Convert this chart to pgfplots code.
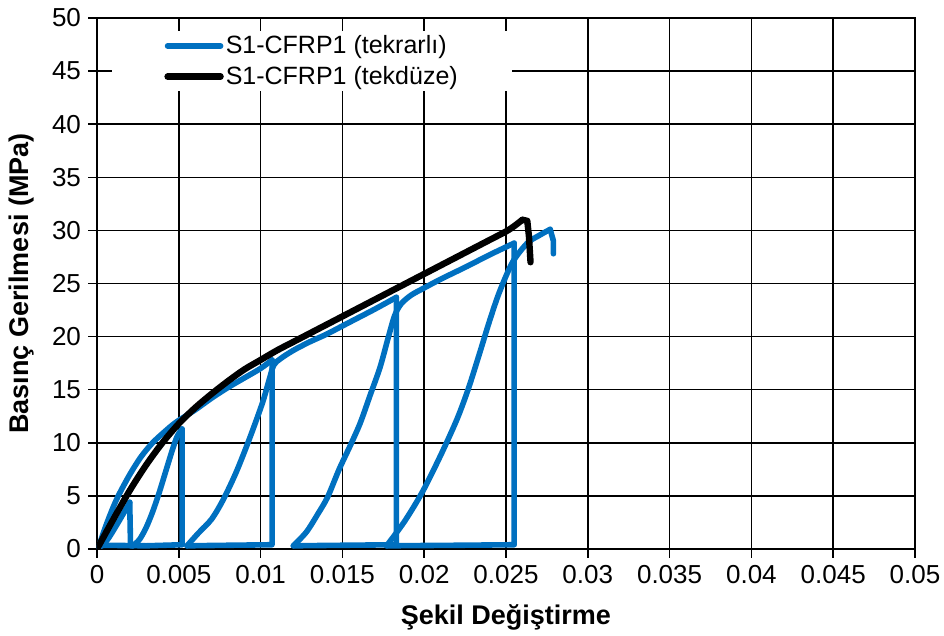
\documentclass[border=0pt]{standalone}
\usepackage{fontspec}
\setmainfont{Liberation Sans}
\usepackage{pgfplots}
\pgfplotsset{compat=1.18}
\definecolor{xlblue}{RGB}{0,112,192}
\begin{document}
\begin{tikzpicture}
\begin{axis}[
  scale only axis, width=409pt, height=265.5pt,
  xmin=0, xmax=0.05, ymin=0, ymax=50,
  xtick={0,0.005,0.01,0.015,0.02,0.025,0.03,0.035,0.04,0.045,0.05},
  xticklabels={0,0.005,0.01,0.015,0.02,0.025,0.03,0.035,0.04,0.045,0.05},
  ytick={0,5,10,15,20,25,30,35,40,45,50},
  scaled x ticks=false,
  /pgf/number format/assume math mode=true,
  grid=major, major grid style={black, line width=0.75pt},
  axis line style={black, line width=1.2pt},
  tick style={black, line width=0.75pt},
  tick align=outside, major tick length=4.5pt,
  xtick pos=bottom, ytick pos=left,
  ticklabel style={font=\fontsize{13}{15}\selectfont},
  xlabel={Şekil Değiştirme},
  ylabel={Basınç Gerilmesi (MPa)},
  label style={font=\fontsize{13.5}{16}\selectfont\bfseries},
  xlabel style={at={(axis description cs:0.5,-0.128)}, anchor=center},
  ylabel style={at={(axis description cs:-0.0917,0.5)}, anchor=center},
  legend style={at={(axis description cs:0.0183,0.9755)}, anchor=north west,
    draw=none, fill=white, inner xsep=26pt, inner ysep=1pt, row sep=2.75pt,
    font=\fontsize{12.5}{15}\selectfont, nodes={inner sep=1pt}},
  legend cell align=left,
  legend image code/.code={\draw[#1] (0pt,0pt) -- (26.5pt,0pt);},
  bl/.style={xlblue, line width=2.8pt, line join=round, line cap=round},
  bk/.style={black, line width=3.2pt, line join=round, line cap=round},
]
% blue: cyclic loading, drawn in pieces (curves smoothed, unloading straight)
\addplot[bl, smooth, tension=0.5] coordinates {
(0,0) (0.0006,0.8) (0.0011,2.0) (0.0016,3.3) (0.0020,4.4)};
\addlegendentry{S1-CFRP1 (tekrarlı)}
\addplot[bl, forget plot] coordinates {(0.0020,4.4) (0.00205,0.3) (0.0022,0.3)};
\addplot[bl, smooth, tension=0.5, forget plot] coordinates {
(0.0022,0.3) (0.0026,0.9) (0.0030,2.0) (0.0034,3.5) (0.0038,5.3) (0.0042,7.3) (0.0046,9.3) (0.0049,10.6) (0.0052,11.3)};
\addplot[bl, forget plot] coordinates {(0.0052,11.3) (0.0052,0.4) (0.003,0.3) (0.0004,0.35) (0.0001,0.2)};
\addplot[bl, smooth, tension=0.5, forget plot] coordinates {
(0.0001,0.2) (0.0005,2.0) (0.0009,3.6) (0.0013,5.0) (0.002,7.0) (0.0027,8.7) (0.0034,10.0) (0.0041,11.0) (0.0048,11.9)
(0.006,13.1) (0.007,14.2) (0.008,15.2) (0.009,16.1) (0.010,17.0) (0.0107,17.8)};
\addplot[bl, forget plot] coordinates {(0.0107,17.8) (0.0107,0.4) (0.008,0.35) (0.0055,0.3)};
\addplot[bl, smooth, tension=0.5, forget plot] coordinates {
(0.0055,0.3) (0.0062,1.5) (0.007,2.8) (0.0077,4.6) (0.0085,7.2) (0.0093,10.3) (0.0101,13.7) (0.0105,15.8) (0.0108,17.3)
(0.0112,17.9) (0.012,18.7) (0.013,19.5) (0.014,20.2) (0.015,21.0) (0.016,21.8) (0.017,22.6) (0.0183,23.7)};
\addplot[bl, forget plot] coordinates {(0.0183,23.7) (0.0183,0.4) (0.015,0.35) (0.012,0.3)};
\addplot[bl, smooth, tension=0.5, forget plot] coordinates {
(0.012,0.3) (0.0128,1.6) (0.0135,3.3) (0.0141,4.9) (0.0148,7.5) (0.0155,9.8) (0.0161,11.9) (0.0167,14.5) (0.0173,17.1) (0.0178,19.9) (0.0182,22.0)
(0.0186,23.1) (0.0192,23.9) (0.0199,24.5) (0.021,25.4) (0.0226,26.6) (0.024,27.7) (0.0255,28.8)};
\addplot[bl, forget plot] coordinates {(0.0255,28.8) (0.0255,0.4) (0.022,0.35) (0.0177,0.3)};
\addplot[bl, smooth, tension=0.5, forget plot] coordinates {
(0.0177,0.3) (0.0188,2.6) (0.0199,5.4) (0.021,8.8) (0.022,12.2) (0.0227,15.1) (0.0234,18.5) (0.024,21.5) (0.0246,24.2) (0.0254,27.0)
(0.0263,28.8) (0.027,29.5) (0.0277,30.1)};
\addplot[bl, forget plot] coordinates {(0.0277,30.1) (0.0279,29.0) (0.0279,27.8)};
% black: monotonic loading
\addplot[bk, smooth, tension=0.5] coordinates {
(0,0) (0.001,2.8) (0.002,5.5) (0.003,7.9) (0.004,10.0) (0.005,11.8) (0.006,13.3) (0.007,14.6) (0.008,15.8) (0.009,16.9) (0.010,17.8)
(0.011,18.7) (0.012,19.5) (0.013,20.3) (0.014,21.1) (0.015,21.9) (0.016,22.7) (0.017,23.5) (0.018,24.3) (0.019,25.1) (0.020,25.9)
(0.021,26.7) (0.022,27.5) (0.023,28.3) (0.024,29.1) (0.025,29.9) (0.0255,30.4) (0.026,31.0)};
\addlegendentry{S1-CFRP1 (tekdüze)}
\addplot[bk, forget plot] coordinates {(0.026,31.0) (0.0263,30.9) (0.0264,29.5) (0.0265,27.0)};
\end{axis}
\pgfresetboundingbox
\path (-48.5pt,-43.5pt) rectangle (423.5pt,274.5pt);
\end{tikzpicture}
\end{document}
